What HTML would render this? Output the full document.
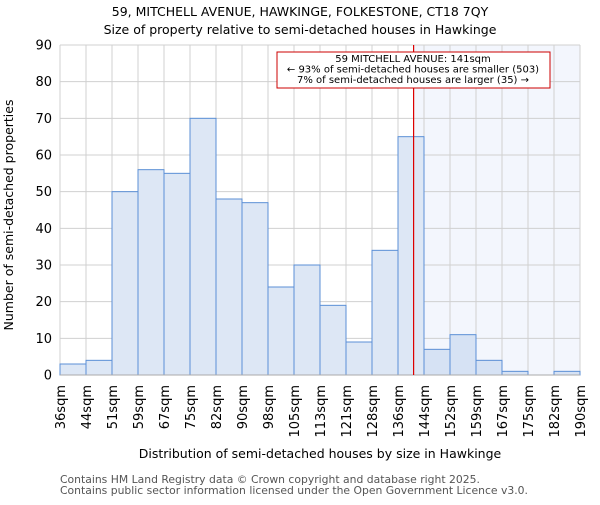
<!DOCTYPE html>
<html><head><meta charset="utf-8"><style>body{margin:0;background:#fff}svg{font-family:"DejaVu Sans","Liberation Sans",sans-serif}</style></head>
<body>
<svg id="chart" width="600" height="500" xmlns="http://www.w3.org/2000/svg">
<text x="300" y="16" font-size="12.5" text-anchor="middle">59, MITCHELL AVENUE, HAWKINGE, FOLKESTONE, CT18 7QY</text>
<text x="300" y="34" font-size="12.5" text-anchor="middle">Size of property relative to semi-detached houses in Hawkinge</text>
<g id="plot"></g>
<text transform="translate(13,215) rotate(-90)" font-size="12.5" text-anchor="middle">Number of semi-detached properties</text>
<text x="320" y="458" font-size="12.5" text-anchor="middle">Distribution of semi-detached houses by size in Hawkinge</text>
<text x="60" y="483" font-size="10.8" fill="#555">Contains HM Land Registry data © Crown copyright and database right 2025.</text>
<text x="60" y="494" font-size="10.8" fill="#555">Contains public sector information licensed under the Open Government Licence v3.0.</text>
</svg>
<script>
const edgeLabels=["36sqm","44sqm","51sqm","59sqm","67sqm","75sqm","82sqm","90sqm","98sqm","105sqm","113sqm","121sqm","128sqm","136sqm","144sqm","152sqm","159sqm","167sqm","175sqm","182sqm","190sqm"];
const counts=[3,4,50,56,55,70,48,47,24,30,19,9,34,65,7,11,4,1,0,1];
const yTicks=[0,10,20,30,40,50,60,70,80,90];
const markerBin=13.6;
const annotation=["59 MITCHELL AVENUE: 141sqm","← 93% of semi-detached houses are smaller (503)","7% of semi-detached houses are larger (35) →"];
const L=60,R=580,T=45,B=375,yMax=90;
const NS="http://www.w3.org/2000/svg";
const g=document.getElementById('plot');
const n=counts.length;
const x=i=>L+(R-L)*i/n;
const y=v=>B-(B-T)*v/yMax;
function mk(t,a,p){const e=document.createElementNS(NS,t);for(const k in a)e.setAttribute(k,a[k]);(p||g).appendChild(e);return e;}
const mx=x(markerBin);
let e=mk('rect',{x:mx,y:T,width:R-mx,height:B-T,fill:'#f3f6fd'});


for(let i=0;i<=n;i++){e=mk('line',{x1:x(i),x2:x(i),y1:T,y2:B,stroke:'#d0d0d0','stroke-width':1});

}
yTicks.forEach(v=>{e=mk('line',{x1:L,x2:R,y1:y(v),y2:y(v),stroke:'#d0d0d0','stroke-width':1});


e=mk('text',{x:L-8,y:y(v)+4.5,'font-size':13,'text-anchor':'end'});e.textContent=v;

});
counts.forEach((c,i)=>{if(c<=0)return;e=mk('rect',{x:x(i),y:y(c),width:x(i+1)-x(i),height:B-y(c),fill:x(i)>=mx-14?'#d6e2f4':'#dde7f5',stroke:'#5b8fd6','stroke-width':1});

});
e=mk('line',{x1:L,x2:R,y1:B,y2:B,stroke:'#aaa','stroke-width':1});


edgeLabels.forEach((l,i)=>{e=mk('text',{transform:`translate(${x(i)+5},${B+10}) rotate(-90)`,'font-size':13,'text-anchor':'end'});e.textContent=l;

});
e=mk('line',{x1:mx,x2:mx,y1:T,y2:B,stroke:'#dd0000','stroke-width':1.2});


e=mk('rect',{x:277,y:52,width:273,height:36,fill:'#fff',stroke:'#cc0000','stroke-width':1});


annotation.forEach((t,k)=>{e=mk('text',{x:413,y:62+k*10.5,'font-size':10,'text-anchor':'middle'});e.textContent=t;

});
</script>
</body></html>
